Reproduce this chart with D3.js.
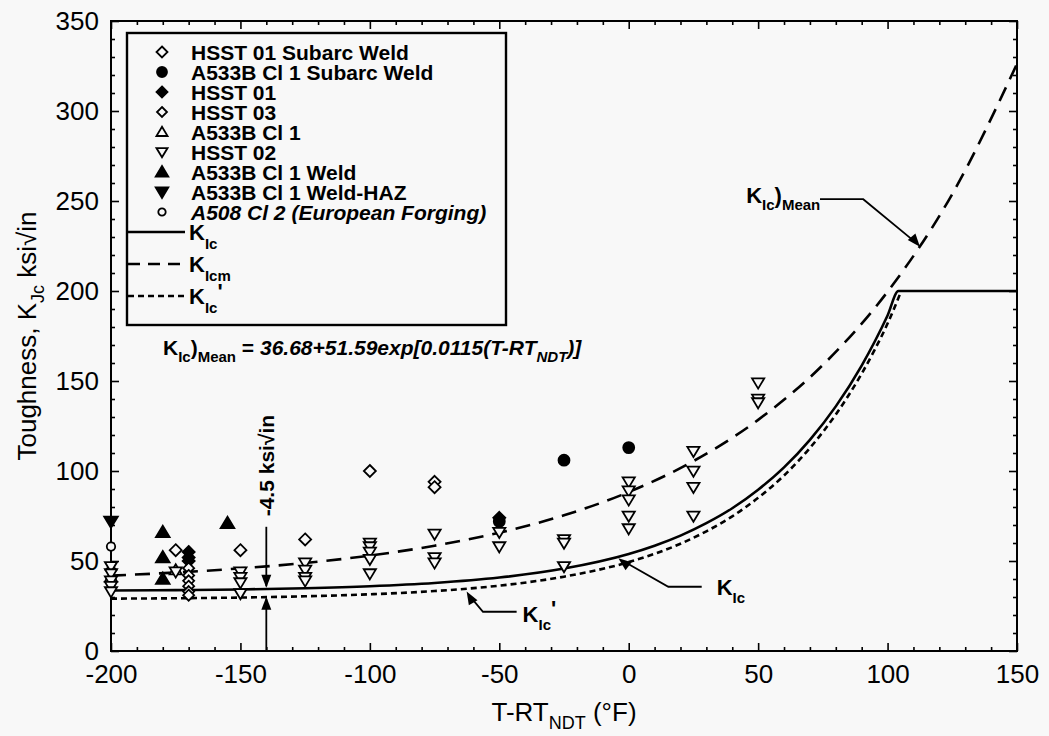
<!DOCTYPE html>
<meta charset="utf-8">
<script src="https://d3js.org/d3.v7.min.js"></script>
<style>
  body { margin: 0; background: #f8f8f8; }
  svg text { font-family: "Liberation Sans", Arial, sans-serif; fill: #000; }
</style>
<div id="chart"></div>
<script>

// ---- values ----
// x = T-RT_NDT (°F), y = toughness (ksi√in)
const hsst01SubarcWeld = [[-175, 56], [-150, 56], [-125, 62], [-100, 100], [-75, 94], [-75, 91]];
const a533bSubarcWeld  = [[-50, 72], [-25, 106], [0, 113]];
const hsst01           = [[-170, 55], [-170, 52], [-170, 50], [-50, 74]];
const hsst03           = [[-200, 45], [-170, 46], [-170, 42], [-170, 39], [-170, 36], [-170, 33], [-170, 31]];
const a533bCl1         = [[-200, 41], [-175, 45]];
const hsst02           = [[-200, 47], [-200, 43], [-200, 39], [-200, 36], [-200, 33],
                          [-175, 44], [-150, 44], [-150, 41], [-150, 38], [-150, 32],
                          [-125, 49], [-125, 45], [-125, 41], [-125, 39],
                          [-100, 60], [-100, 58], [-100, 55], [-100, 51], [-100, 43],
                          [-75, 65], [-75, 52], [-75, 49], [-50, 66], [-50, 58],
                          [-25, 62], [-25, 60], [-25, 47],
                          [0, 94], [0, 89], [0, 84], [0, 75], [0, 68],
                          [25, 111], [25, 100], [25, 91], [25, 75],
                          [50, 149], [50, 140], [50, 138]];
const a533bWeld        = [[-180, 66], [-180, 52], [-180, 40], [-155, 71]];
const a533bWeldHaz     = [[-200, 72]];
const a508Forging      = [[-200, 58]];

// curves
const kIcT     = [-200, -175, -150, -125, -100, -75, -50, -25, 0, 10, 20, 30, 40, 50, 60, 70, 80, 90, 95, 100, 104.2, 150];
const kIc      = [33.6, 33.8, 34.2, 34.9, 36.0, 37.8, 40.8, 45.8, 53.9, 58.5, 64.1, 71.0, 79.3, 89.6, 102.0, 117.3, 135.9, 158.6, 171.8, 186.4, 200, 200];
const kIcPT    = [-200, -175, -150, -125, -100, -75, -50, -25, 0, 10, 20, 30, 40, 50, 60, 70, 80, 90, 95, 100, 105];
const kIcP     = [29.1, 29.3, 29.7, 30.4, 31.5, 33.3, 36.3, 41.3, 49.4, 54.0, 59.6, 66.5, 74.8, 85.1, 97.5, 112.8, 131.4, 154.1, 167.3, 181.9, 199];
const kIcmT    = [-200, -175, -150, -125, -100, -75, -50, -25, 0, 25, 50, 75, 100, 125, 150];
const kIcm     = [41.9, 43.6, 45.9, 48.9, 53.0, 58.5, 65.7, 75.4, 88.3, 105.5, 128.4, 158.9, 199.6, 253.9, 326.2];

const xTicks = [-200, -150, -100, -50, 0, 50, 100, 150];
const yTicks = [0, 50, 100, 150, 200, 250, 300, 350];

const legendNames = ["HSST 01 Subarc Weld", "A533B Cl 1 Subarc Weld", "HSST 01", "HSST 03", "A533B Cl 1",
                     "HSST 02", "A533B Cl 1 Weld", "A533B Cl 1 Weld-HAZ", "A508 Cl 2 (European Forging)"];

// ---- layout ----
const margin = {top: 21, right: 32, bottom: 85, left: 111},
      width = 1049 - margin.left - margin.right,
      height = 736 - margin.top - margin.bottom;

const svg = d3.select("#chart")
  .append("svg")
  .attr("width", 1049)
  .attr("height", 736)
  .append("g")
  .attr("transform", `translate(${margin.left}, ${margin.top})`);

const x = d3.scaleLinear().domain([-200, 150]).range([0, width]);
const y = d3.scaleLinear().domain([0, 350]).range([height, 0]);

const minorX = d3.range(-200, 151, 10).filter(d => d % 50 !== 0);
const minorY = d3.range(0, 351, 10).filter(d => d % 50 !== 0);

function styleAxis(g) {
  g.select(".domain").remove();
  g.selectAll("line").attr("stroke", "#000").attr("stroke-width", 1.6);
  g.selectAll("text").style("font-size", "26px").attr("fill", "#000");
}

// major ticks with labels (inward)
svg.append("g").attr("transform", `translate(0,${height})`)
  .call(d3.axisBottom(x).tickValues(xTicks).tickSize(-8).tickPadding(14).tickFormat(d => String(d)))
  .call(styleAxis);
svg.append("g")
  .call(d3.axisLeft(y).tickValues(yTicks).tickSize(-8).tickPadding(12).tickFormat(d => String(d)))
  .call(styleAxis);
// minor ticks
svg.append("g").attr("transform", `translate(0,${height})`)
  .call(d3.axisBottom(x).tickValues(minorX).tickSize(-4).tickFormat(""))
  .call(styleAxis);
svg.append("g")
  .call(d3.axisLeft(y).tickValues(minorY).tickSize(-4).tickFormat(""))
  .call(styleAxis);
// top and right
svg.append("g").call(d3.axisTop(x).tickValues(xTicks).tickSize(-8).tickFormat("")).call(styleAxis);
svg.append("g").call(d3.axisTop(x).tickValues(minorX).tickSize(-4).tickFormat("")).call(styleAxis);
svg.append("g").attr("transform", `translate(${width},0)`)
  .call(d3.axisRight(y).tickValues(yTicks).tickSize(-8).tickFormat("")).call(styleAxis);
svg.append("g").attr("transform", `translate(${width},0)`)
  .call(d3.axisRight(y).tickValues(minorY).tickSize(-4).tickFormat("")).call(styleAxis);

svg.append("rect")
  .attr("width", width).attr("height", height)
  .attr("fill", "none").attr("stroke", "#000").attr("stroke-width", 2);

// axis titles
const xt = svg.append("text")
  .attr("x", x(-25)).attr("y", height + 70)
  .attr("text-anchor", "middle").style("font-size", "26px");
xt.append("tspan").text("T-RT");
xt.append("tspan").attr("dy", 8).style("font-size", "18px").text("NDT");
xt.append("tspan").attr("dy", -8).text(" (°F)");

const yt = svg.append("text")
  .attr("transform", `translate(-75,${y(175)}) rotate(-90)`)
  .attr("text-anchor", "middle").style("font-size", "26px");
yt.append("tspan").text("Toughness, K");
yt.append("tspan").attr("dy", 8).style("font-size", "18px").text("Jc");
yt.append("tspan").attr("dy", -8).text(" ksi√in");

// ---- curves ----
const line = d3.line().x(d => x(d[0])).y(d => y(d[1])).curve(d3.curveMonotoneX);

svg.append("path").datum(kIcT.map((t, i) => [t, kIc[i]]))
  .attr("d", line).attr("fill", "none").attr("stroke", "#000").attr("stroke-width", 2.6);
svg.append("path").datum(kIcPT.map((t, i) => [t, kIcP[i]]))
  .attr("d", line).attr("fill", "none").attr("stroke", "#000").attr("stroke-width", 2.6)
  .attr("stroke-dasharray", "6,4");
svg.append("path").datum(kIcmT.map((t, i) => [t, kIcm[i]]))
  .attr("d", line).attr("fill", "none").attr("stroke", "#000").attr("stroke-width", 2.6)
  .attr("stroke-dasharray", "15,9");

// ---- markers ----
const shapes = {
  diamond: r => `M0,${-r}L${r},0L0,${r}L${-r},0Z`,
  up: r => `M0,${-r}L${r * 1.05},${r * 0.75}L${-r * 1.05},${r * 0.75}Z`,
  down: r => `M0,${r}L${r * 1.05},${-r * 0.75}L${-r * 1.05},${-r * 0.75}Z`,
  circle: r => `M${r},0A${r},${r} 0 1,1 ${-r},0A${r},${r} 0 1,1 ${r},0Z`
};

const series = [
  {data: hsst01SubarcWeld, shape: "diamond", r: 6,   fill: false},
  {data: a533bSubarcWeld,  shape: "circle",  r: 5.5, fill: true},
  {data: hsst01,           shape: "diamond", r: 6,   fill: true},
  {data: hsst03,           shape: "diamond", r: 5.5, fill: false},
  {data: a533bCl1,         shape: "up",      r: 5.8, fill: false},
  {data: hsst02,           shape: "down",    r: 5.8, fill: false},
  {data: a533bWeld,        shape: "up",      r: 6.5, fill: true},
  {data: a533bWeldHaz,     shape: "down",    r: 6.5, fill: true},
  {data: a508Forging,      shape: "circle",  r: 4.2, fill: false}
];

series.forEach(s => {
  svg.append("g").selectAll("path")
    .data(s.data)
    .join("path")
    .attr("transform", d => `translate(${x(d[0])},${y(d[1])})`)
    .attr("d", shapes[s.shape](s.r))
    .attr("fill", s.fill ? "#000" : "#f8f8f8")
    .attr("stroke", "#000").attr("stroke-width", 1.8);
});

// ---- legend ----
const lg = svg.append("g").attr("transform", `translate(${127 - margin.left},${33 - margin.top})`);
lg.append("rect").attr("width", 379).attr("height", 292)
  .attr("fill", "#f8f8f8").attr("stroke", "#000").attr("stroke-width", 2.4);

series.forEach((s, i) => {
  const ry = 19 + i * 20;
  lg.append("path").attr("transform", `translate(35,${ry})`)
    .attr("d", shapes[s.shape](s.r - 0.5))
    .attr("fill", s.fill ? "#000" : "#f8f8f8")
    .attr("stroke", "#000").attr("stroke-width", 1.8);
  lg.append("text").attr("x", 64).attr("y", ry + 8)
    .style("font-size", "21px").style("font-weight", "bold")
    .style("font-style", i === 8 ? "italic" : "normal")
    .text(legendNames[i]);
});

const lineKeys = [
  {dash: null, sub: "Ic", tail: ""},
  {dash: "12,8", sub: "Icm", tail: ""},
  {dash: "6,4", sub: "Ic", tail: "'"}
];
lineKeys.forEach((k, i) => {
  const ry = 199 + i * 32;
  lg.append("line").attr("x1", 1).attr("x2", 58).attr("y1", ry).attr("y2", ry)
    .attr("stroke", "#000").attr("stroke-width", 2.4)
    .attr("stroke-dasharray", k.dash);
  const t = lg.append("text").attr("x", 62).attr("y", ry + 8)
    .style("font-size", "22px").style("font-weight", "bold");
  t.append("tspan").text("K");
  t.append("tspan").attr("dy", 9).style("font-size", "15px").text(k.sub);
  if (k.tail) t.append("tspan").attr("dy", -14).text(k.tail);
});

// ---- formula ----
const fm = svg.append("text").attr("x", 163 - margin.left).attr("y", 355 - margin.top)
  .style("font-size", "21px").style("font-weight", "bold");
fm.append("tspan").text("K");
fm.append("tspan").attr("dy", 7).style("font-size", "15px").text("Ic");
fm.append("tspan").attr("dy", -7).text(")");
fm.append("tspan").attr("dy", 7).style("font-size", "15px").text("Mean");
fm.append("tspan").attr("dy", -7).text(" = ");
fm.append("tspan").style("font-style", "italic").text("36.68+51.59exp[0.0115(T-RT");
fm.append("tspan").attr("dy", 7).style("font-size", "15px").style("font-style", "italic").text("NDT");
fm.append("tspan").attr("dy", -7).style("font-style", "italic").text(")]");

// ---- annotations ----
const arrowHead = (g, x0, y0, angle) => {
  g.append("path")
    .attr("transform", `translate(${x0},${y0}) rotate(${angle})`)
    .attr("d", "M0,0L-13,-5L-13,5Z").attr("fill", "#000");
};
const ann = svg.append("g").attr("stroke", "#000").attr("stroke-width", 1.8).attr("fill", "none");

// -4.5 ksi√in offset between K_Ic and K_Ic'
const offT = -140;
ann.append("line").attr("x1", x(offT)).attr("x2", x(offT)).attr("y1", y(69)).attr("y2", y(36));
arrowHead(svg, x(offT), y(35.2), 90);
ann.append("line").attr("x1", x(offT)).attr("x2", x(offT)).attr("y1", y(0)).attr("y2", y(29));
arrowHead(svg, x(offT), y(30.2), -90);
svg.append("text")
  .attr("transform", `translate(${x(offT) + 8},${y(103)}) rotate(-90)`)
  .attr("text-anchor", "middle").style("font-size", "21px").style("font-weight", "bold")
  .text("-4.5 ksi√in");

// K_Ic' pointer
ann.append("path").attr("d", `M${x(-43.3)},${y(21.8)}L${x(-56.3)},${y(21.8)}L${x(-60.5)},${y(29)}`);
arrowHead(svg, x(-62.6), y(33), 240);
const l1 = svg.append("text").attr("x", x(-41)).attr("y", y(16))
  .style("font-size", "22px").style("font-weight", "bold");
l1.append("tspan").text("K");
l1.append("tspan").attr("dy", 8).style("font-size", "15px").text("Ic");
l1.append("tspan").attr("dy", -14).text("'");

// K_Ic pointer
ann.append("path").attr("d", `M${x(28.2)},${y(35.7)}L${x(15.3)},${y(35.7)}L${x(-1)},${y(49)}`);
arrowHead(svg, x(-4), y(51.5), 218);
const l2 = svg.append("text").attr("x", x(34)).attr("y", y(31))
  .style("font-size", "22px").style("font-weight", "bold");
l2.append("tspan").text("K");
l2.append("tspan").attr("dy", 8).style("font-size", "15px").text("Ic");

// K_Ic)Mean pointer
ann.append("path").attr("d", `M${x(73.9)},${y(251)}L${x(90.6)},${y(251)}L${x(110)},${y(228)}`);
arrowHead(svg, x(112.5), y(224.6), 50);
const l3 = svg.append("text").attr("x", x(74)).attr("y", y(251) + 4)
  .attr("text-anchor", "end")
  .style("font-size", "22px").style("font-weight", "bold");
l3.append("tspan").text("K");
l3.append("tspan").attr("dy", 7).style("font-size", "15px").text("Ic");
l3.append("tspan").attr("dy", -7).text(")");
l3.append("tspan").attr("dy", 7).style("font-size", "15px").text("Mean");

</script>
